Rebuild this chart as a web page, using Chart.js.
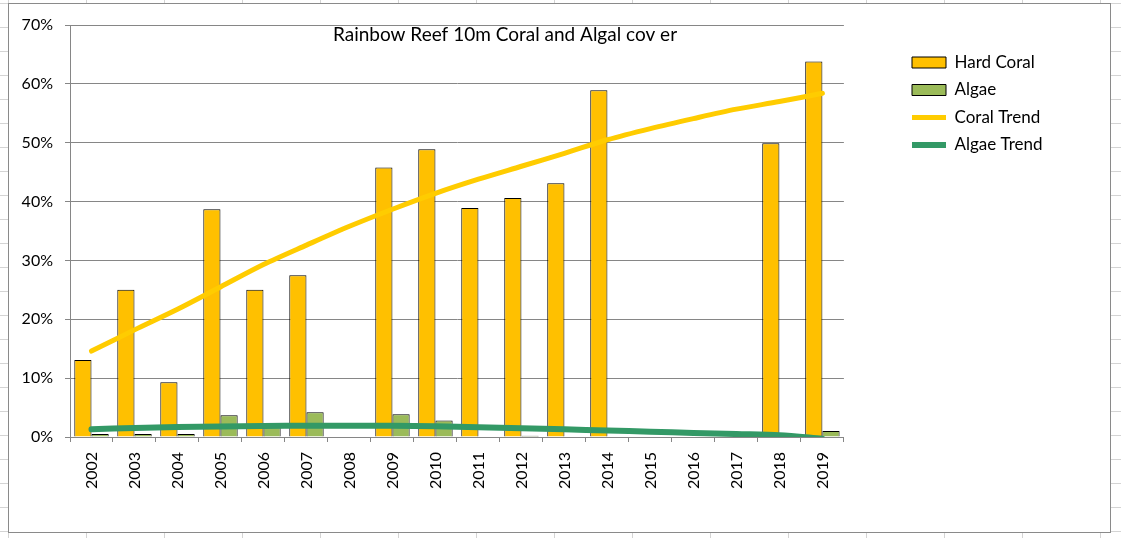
<!DOCTYPE html>
<html>
<head>
<meta charset="utf-8">
<script src="https://cdn.jsdelivr.net/npm/chart.js@4.4.1/dist/chart.umd.min.js"></script>
<style>
    body {
        margin: 0;
        width: 1121px;
        height: 538px;
        overflow: hidden;
        background-color: #fff;
        background-image:
            linear-gradient(to right, #d4d4d4 1px, transparent 1px),
            linear-gradient(to bottom, #d4d4d4 1px, transparent 1px);
        background-size: 78px 24px;
        background-position: 86px 3px;
    }
    #box {
        position: absolute;
        left: 8px;
        top: 3px;
        width: 1101px;
        height: 528px;
        border: 1px solid #8a8a8a;
        background: #fff;
    }
    #wrap {
        position: absolute;
        left: 0;
        top: 0;
        width: 1121px;
        height: 538px;
    }
</style>
</head>
<body>
<div id="box"></div>
<div id="wrap"><canvas id="chart" width="1121" height="538"></canvas></div>
<script>
// Chart data (percent cover)
const chartTitle = 'Rainbow Reef 10m Coral and Algal cov er';
const years = ['2002', '2003', '2004', '2005', '2006', '2007', '2008', '2009', '2010',
    '2011', '2012', '2013', '2014', '2015', '2016', '2017', '2018', '2019'];
const hardCoral = [13.1, 25, 9.3, 38.7, 25, 27.5, null, 45.8, 48.9,
    38.9, 40.6, 43.1, 58.9, null, null, null, 49.9, 63.8];
const algae = [0.5, 0.5, 0.5, 3.7, 2.0, 4.2, null, 3.85, 2.8,
    null, 0.2, null, null, null, null, null, null, 1.0];
const coralTrend = [14.6, 18.2, 21.7, 25.5, 29.3, 32.6, 35.8, 38.7, 41.4,
    43.8, 46.0, 48.2, 50.5, 52.4, 54.1, 55.7, 57.0, 58.4];
const algaeTrend = [1.3, 1.55, 1.7, 1.8, 1.88, 1.92, 1.93, 1.9, 1.82,
    1.65, 1.5, 1.3, 1.1, 0.9, 0.7, 0.5, 0.3, -0.3];
const yTicks = [0, 10, 20, 30, 40, 50, 60, 70];

const GRID = '#868686';
const LEGEND_PAD = 10.5;

Chart.defaults.font.family = 'Lato, "Open Sans", sans-serif';
Chart.defaults.font.size = 16;
Chart.defaults.color = '#000';

// title sits inside the plot area, like the sheet chart
const titlePlugin = {
    id: 'sheetTitle',
    afterDraw(chart) {
        const ctx = chart.ctx;
        ctx.save();
        ctx.font = '19px Lato, "Open Sans", sans-serif';
        ctx.fillStyle = '#000';
        ctx.textAlign = 'center';
        ctx.textBaseline = 'middle';
        ctx.fillText(chartTitle, 505, 35);
        ctx.restore();
    }
};

// move the legend box (and its clip area) to where the original has it
const legendPlace = {
    id: 'legendPlace',
    afterLayout(chart) {
        const lg = chart.legend;
        const dx = 912 - LEGEND_PAD - lg.left;
        const dy = 54 - LEGEND_PAD - lg.top;
        lg.left += dx;
        lg.right += dx;
        lg.top += dy;
        lg.bottom += dy;
    }
};

new Chart(document.getElementById('chart'), {
    type: 'bar',
    data: {
        labels: years,
        datasets: [
            {
                label: 'Hard Coral',
                data: hardCoral,
                backgroundColor: '#FFC000',
                borderColor: '#000',
                borderWidth: 1,
                pointStyle: 'rect',
                order: 2
            },
            {
                label: 'Algae',
                data: algae,
                backgroundColor: '#9BBB59',
                borderColor: '#000',
                borderWidth: 1,
                pointStyle: 'rect',
                order: 2
            },
            {
                type: 'line',
                label: 'Coral Trend',
                data: coralTrend,
                borderColor: '#FFCC00',
                backgroundColor: '#FFCC00',
                borderWidth: 5,
                borderCapStyle: 'round',
                pointRadius: 0,
                pointStyle: 'line',
                tension: 0.3,
                order: 1
            },
            {
                type: 'line',
                label: 'Algae Trend',
                data: algaeTrend,
                borderColor: '#339966',
                backgroundColor: '#339966',
                borderWidth: 6,
                borderCapStyle: 'round',
                pointRadius: 0,
                pointStyle: 'line',
                tension: 0.3,
                order: 1
            }
        ]
    },
    options: {
        responsive: false,
        animation: false,
        layout: {
            padding: { left: 0, top: 25, right: 126, bottom: 0 }
        },
        datasets: {
            bar: { categoryPercentage: 0.8, barPercentage: 1 }
        },
        scales: {
            x: {
                grid: {
                    offset: true,
                    drawOnChartArea: false,
                    color: GRID,
                    tickLength: 5
                },
                border: { color: GRID },
                ticks: {
                    autoSkip: false,
                    minRotation: 90,
                    maxRotation: 90,
                    padding: 10
                },
                afterFit(scale) { scale.height = 101; }
            },
            y: {
                min: 0,
                max: 70,
                grid: { color: GRID, tickLength: 5 },
                border: { color: GRID },
                afterBuildTicks(scale) {
                    scale.ticks = yTicks.map(v => ({ value: v }));
                },
                ticks: {
                    padding: 12,
                    callback: v => v + '%'
                },
                afterFit(scale) { scale.width = 70; }
            }
        },
        plugins: {
            tooltip: { enabled: false },
            legend: {
                position: 'right',
                align: 'start',
                labels: {
                    usePointStyle: true,
                    pointStyleWidth: 34,
                    boxHeight: 11,
                    padding: LEGEND_PAD,
                    color: '#000',
                    font: { size: 17 },
                    sort: (a, b) => a.datasetIndex - b.datasetIndex
                }
            }
        }
    },
    plugins: [titlePlugin, legendPlace]
});
</script>
</body>
</html>
